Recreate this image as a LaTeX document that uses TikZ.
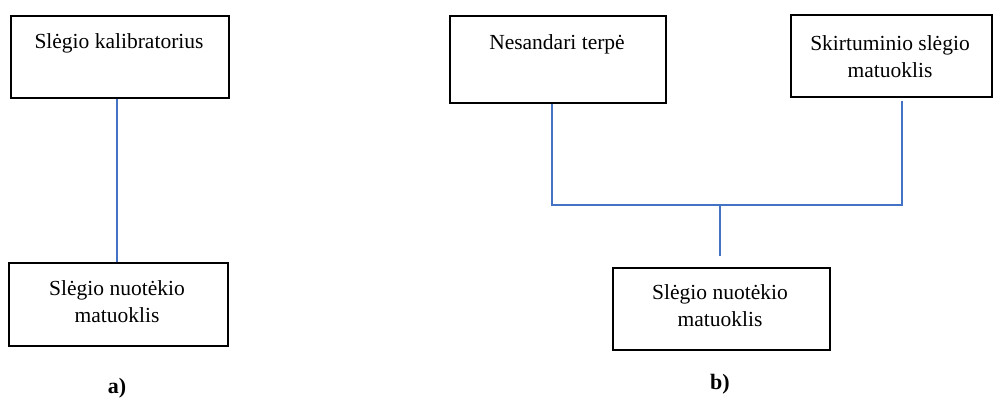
\documentclass[tikz,border=0pt]{standalone}
\usepackage{fontspec}
\setmainfont{Liberation Serif}
\usetikzlibrary{calc}
\definecolor{linkblue}{RGB}{68,114,196}
\tikzset{
  box/.style={draw=black, line width=1.6pt, rectangle, inner sep=0pt, anchor=north west},
  txt/.style={align=center, font=\fontsize{21.5}{27}\selectfont, inner sep=0pt},
  tag/.style={font=\fontsize{22}{26}\selectfont\bfseries, inner sep=0pt},
  link/.style={draw=linkblue, line width=1.1pt}
}
\begin{document}
\begin{tikzpicture}[x=1pt, y=-1pt]
\useasboundingbox (0,0) rectangle (995,398);
% part a
\node[box, minimum width=218pt, minimum height=82pt] (a1) at (10,15) {};
\node[txt] (a1t) at (119,43) {Slėgio kalibratorius};
\node[box, minimum width=219pt, minimum height=83pt] (a2) at (8,262) {};
\node[txt] (a2t) at (117,302) {Slėgio nuotėkio\\matuoklis};
\node[tag] (ta) at (117,388) {a)};
\coordinate (al) at (117,0);
\draw[link] (a1.south -| al) -- (a2.north -| al);
% part b
\node[box, minimum width=216pt, minimum height=87pt] (b1) at (449,15) {};
\node[txt] (b1t) at (557,44) {Nesandari terpė};
\node[box, minimum width=201pt, minimum height=82pt] (b2) at (790,14) {};
\node[txt] (b2t) at (890,57) {Skirtuminio slėgio\\matuoklis};
\node[box, minimum width=217pt, minimum height=82pt] (b3) at (612,267) {};
\node[txt] (b3t) at (720,306) {Slėgio nuotėkio\\matuoklis};
\node[tag] (tb) at (720,384) {b)};
\coordinate (bl) at (552,205);
\coordinate (br) at (902,205);
\coordinate (bm) at (720,205);
\coordinate (bmd) at (720,256);
\coordinate (brt) at (902,101);
\draw[link] (b1.south -| bl) -- (bl) -- (br) -- (brt);
\draw[link] (bm) -- (bmd);
\end{tikzpicture}
\end{document}
